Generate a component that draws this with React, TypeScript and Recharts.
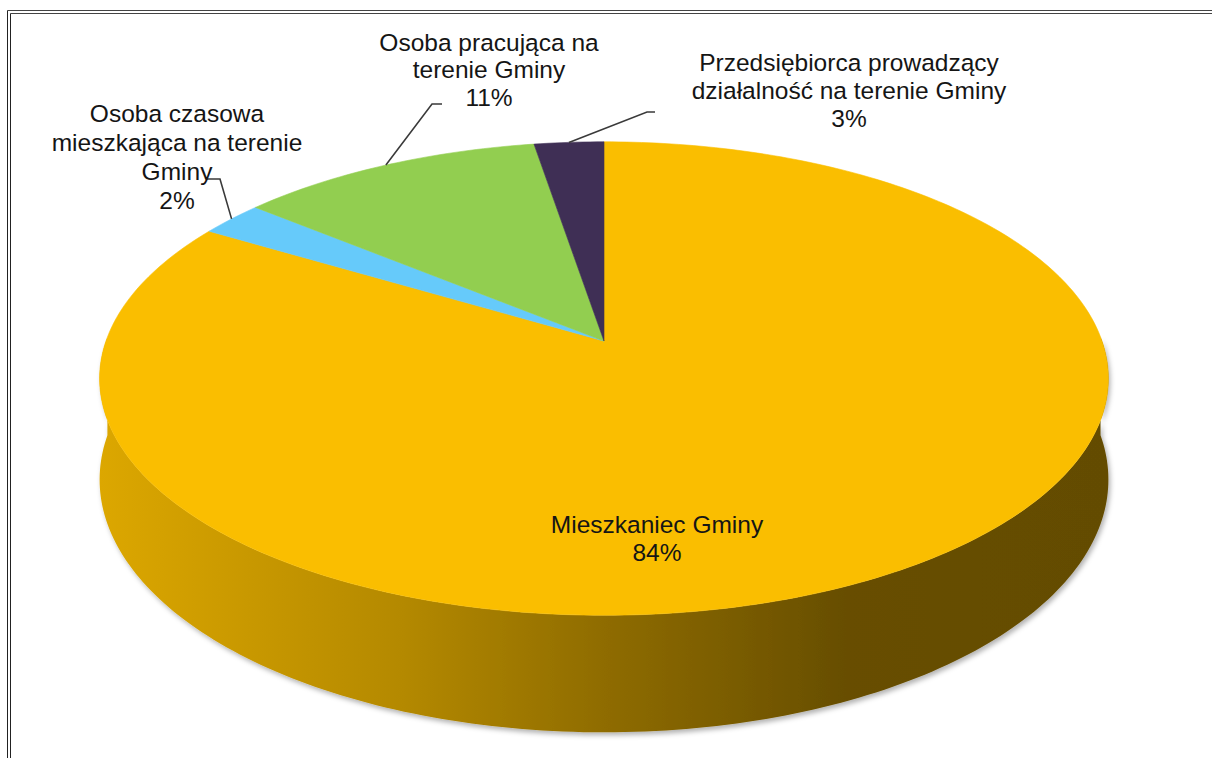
import { Pie, PieChart } from "recharts";

const categories = [
  "Mieszkaniec Gminy",
  "Osoba czasowa mieszkająca na terenie Gminy",
  "Osoba pracująca na terenie Gminy",
  "Przedsiębiorca prowadzący działalność na terenie Gminy",
];
const shares = [83.6, 2.4, 11.4, 2.6];
const sliceColors = ["#FABE00", "#66CAFA", "#92CE50", "#3F2F55"];

const data = categories.map((name, i) => ({ name, value: shares[i], fill: sliceColors[i] }));

// perspective look of the disk
const TILT = 0.4634;
const PERSPECTIVE = -0.1586;
const DEPTH = 98.5;

const labelLayout = [
  { x: 657, y: 524, gap: 28, words: [2], elbow: null },
  { x: 177, y: 113, gap: 29, words: [2, 3, 1], elbow: [[220, 179], [207, 179]] },
  { x: 489, y: 42, gap: 27.5, words: [3, 2], elbow: [[432, 104], [442, 104]] },
  { x: 849, y: 62, gap: 28, words: [2, 4], elbow: [[647, 112], [655, 112]] },
];

function project(cx: number, cy: number, r: number, angle: number, drop = 0) {
  const rad = (angle * Math.PI) / 180;
  const u = Math.cos(rad);
  const v = -Math.sin(rad);
  const w = 1 + PERSPECTIVE * v;
  return [cx + (r * u) / w, cy + (r * TILT * v + drop) / w];
}

function arcAngles(start: number, end: number) {
  const steps = Math.max(2, Math.ceil(Math.abs(end - start)));
  return Array.from({ length: steps + 1 }, (_, i) => start + ((end - start) * i) / steps);
}

function shade(hex: string, f: number) {
  const n = parseInt(hex.slice(1), 16);
  const c = [(n >> 16) & 255, (n >> 8) & 255, n & 255].map((x) => Math.round(x * f));
  return `rgb(${c[0]},${c[1]},${c[2]})`;
}

const toPath = (pts: number[][]) =>
  pts.map((p, i) => `${i ? "L" : "M"}${p[0].toFixed(2)},${p[1].toFixed(2)}`).join(" ");

function TopSector(props: any) {
  const { cx, cy, outerRadius, startAngle, endAngle, fill } = props;
  const rim = arcAngles(startAngle, endAngle).map((a) => project(cx, cy, outerRadius, a));
  const d = `M${cx},${cy} ` + toPath(rim).replace(/^M/, "L") + " Z";
  return <path d={d} fill={fill} stroke={fill} strokeWidth={0.6} />;
}

function SideSector(props: any) {
  const { cx, cy, outerRadius, startAngle, endAngle, fill, index } = props;
  const front = arcAngles(startAngle, endAngle).filter(
    (a) => Math.sin((a * Math.PI) / 180) <= 0.02,
  );
  if (front.length < 2) return <g />;
  const top = front.map((a) => project(cx, cy, outerRadius, a));
  const bottom = front
    .slice()
    .reverse()
    .map((a) => project(cx, cy, outerRadius, a, DEPTH));
  const gradId = `side-grad-${index}`;
  const shadowId = `side-shadow-${index}`;
  const span = outerRadius * 1.013;
  return (
    <g>
      <defs>
        <linearGradient id={gradId} gradientUnits="userSpaceOnUse" x1={cx - span} y1={0} x2={cx + span} y2={0}>
          <stop offset="0%" stopColor={shade(fill, 0.88)} />
          <stop offset="30%" stopColor={shade(fill, 0.72)} />
          <stop offset="50%" stopColor={shade(fill, 0.57)} />
          <stop offset="74%" stopColor={shade(fill, 0.41)} />
          <stop offset="100%" stopColor={shade(fill, 0.4)} />
        </linearGradient>
        <filter id={shadowId} x="-5%" y="-5%" width="110%" height="120%">
          <feDropShadow dx={2} dy={3} stdDeviation={2.5} floodColor="#000" floodOpacity={0.3} />
        </filter>
      </defs>
      <path d={toPath([...top, ...bottom]) + " Z"} fill={`url(#${gradId})`} filter={`url(#${shadowId})`} />
    </g>
  );
}

function renderLabel(props: any) {
  const { index, name, percent, cx, cy, outerRadius, midAngle } = props;
  const layout = labelLayout[index];
  const words = String(name).split(" ");
  const lines: string[] = [];
  let k = 0;
  layout.words.forEach((n) => {
    lines.push(words.slice(k, k + n).join(" "));
    k += n;
  });
  lines.push(`${Math.round(percent * 100)}%`);
  const start = project(cx, cy, outerRadius, midAngle);
  return (
    <g>
      {layout.elbow && (
        <polyline
          points={[start, ...layout.elbow].map((p) => `${p[0]},${p[1]}`).join(" ")}
          fill="none"
          stroke="#3a3a3a"
          strokeWidth={1.6}
        />
      )}
      <text
        textAnchor="middle"
        fill="#151515"
        fontSize={24.5}
        fontFamily="'Liberation Sans', Arial, sans-serif"
      >
        {lines.map((line, i) => (
          <tspan key={i} x={layout.x} y={layout.y + i * layout.gap + 8.5}>
            {line}
          </tspan>
        ))}
      </text>
    </g>
  );
}

export default function App() {
  return (
    <div style={{ position: "absolute", left: 0, top: 0, width: 1212, height: 758, background: "#fff", overflow: "hidden" }}>
      <div
        style={{
          position: "absolute",
          left: 7,
          top: 10,
          width: 1240,
          height: 780,
          borderTop: "4px double #444",
          borderLeft: "4px double #222",
        }}
      />
      <div style={{ position: "absolute", left: 0, top: 0 }}>
        <PieChart width={1212} height={758} margin={{ top: 0, right: 0, bottom: 0, left: 0 }}>
          <Pie
            data={data}
            dataKey="value"
            nameKey="name"
            cx={604}
            cy={341}
            outerRadius={498}
            startAngle={90}
            endAngle={-270}
            stroke="none"
            isAnimationActive={false}
            shape={SideSector}
          />
          <Pie
            data={data}
            dataKey="value"
            nameKey="name"
            cx={604}
            cy={341}
            outerRadius={498}
            startAngle={90}
            endAngle={-270}
            stroke="none"
            isAnimationActive={false}
            shape={TopSector}
            label={renderLabel}
            labelLine={false}
          />
        </PieChart>
      </div>
    </div>
  );
}
